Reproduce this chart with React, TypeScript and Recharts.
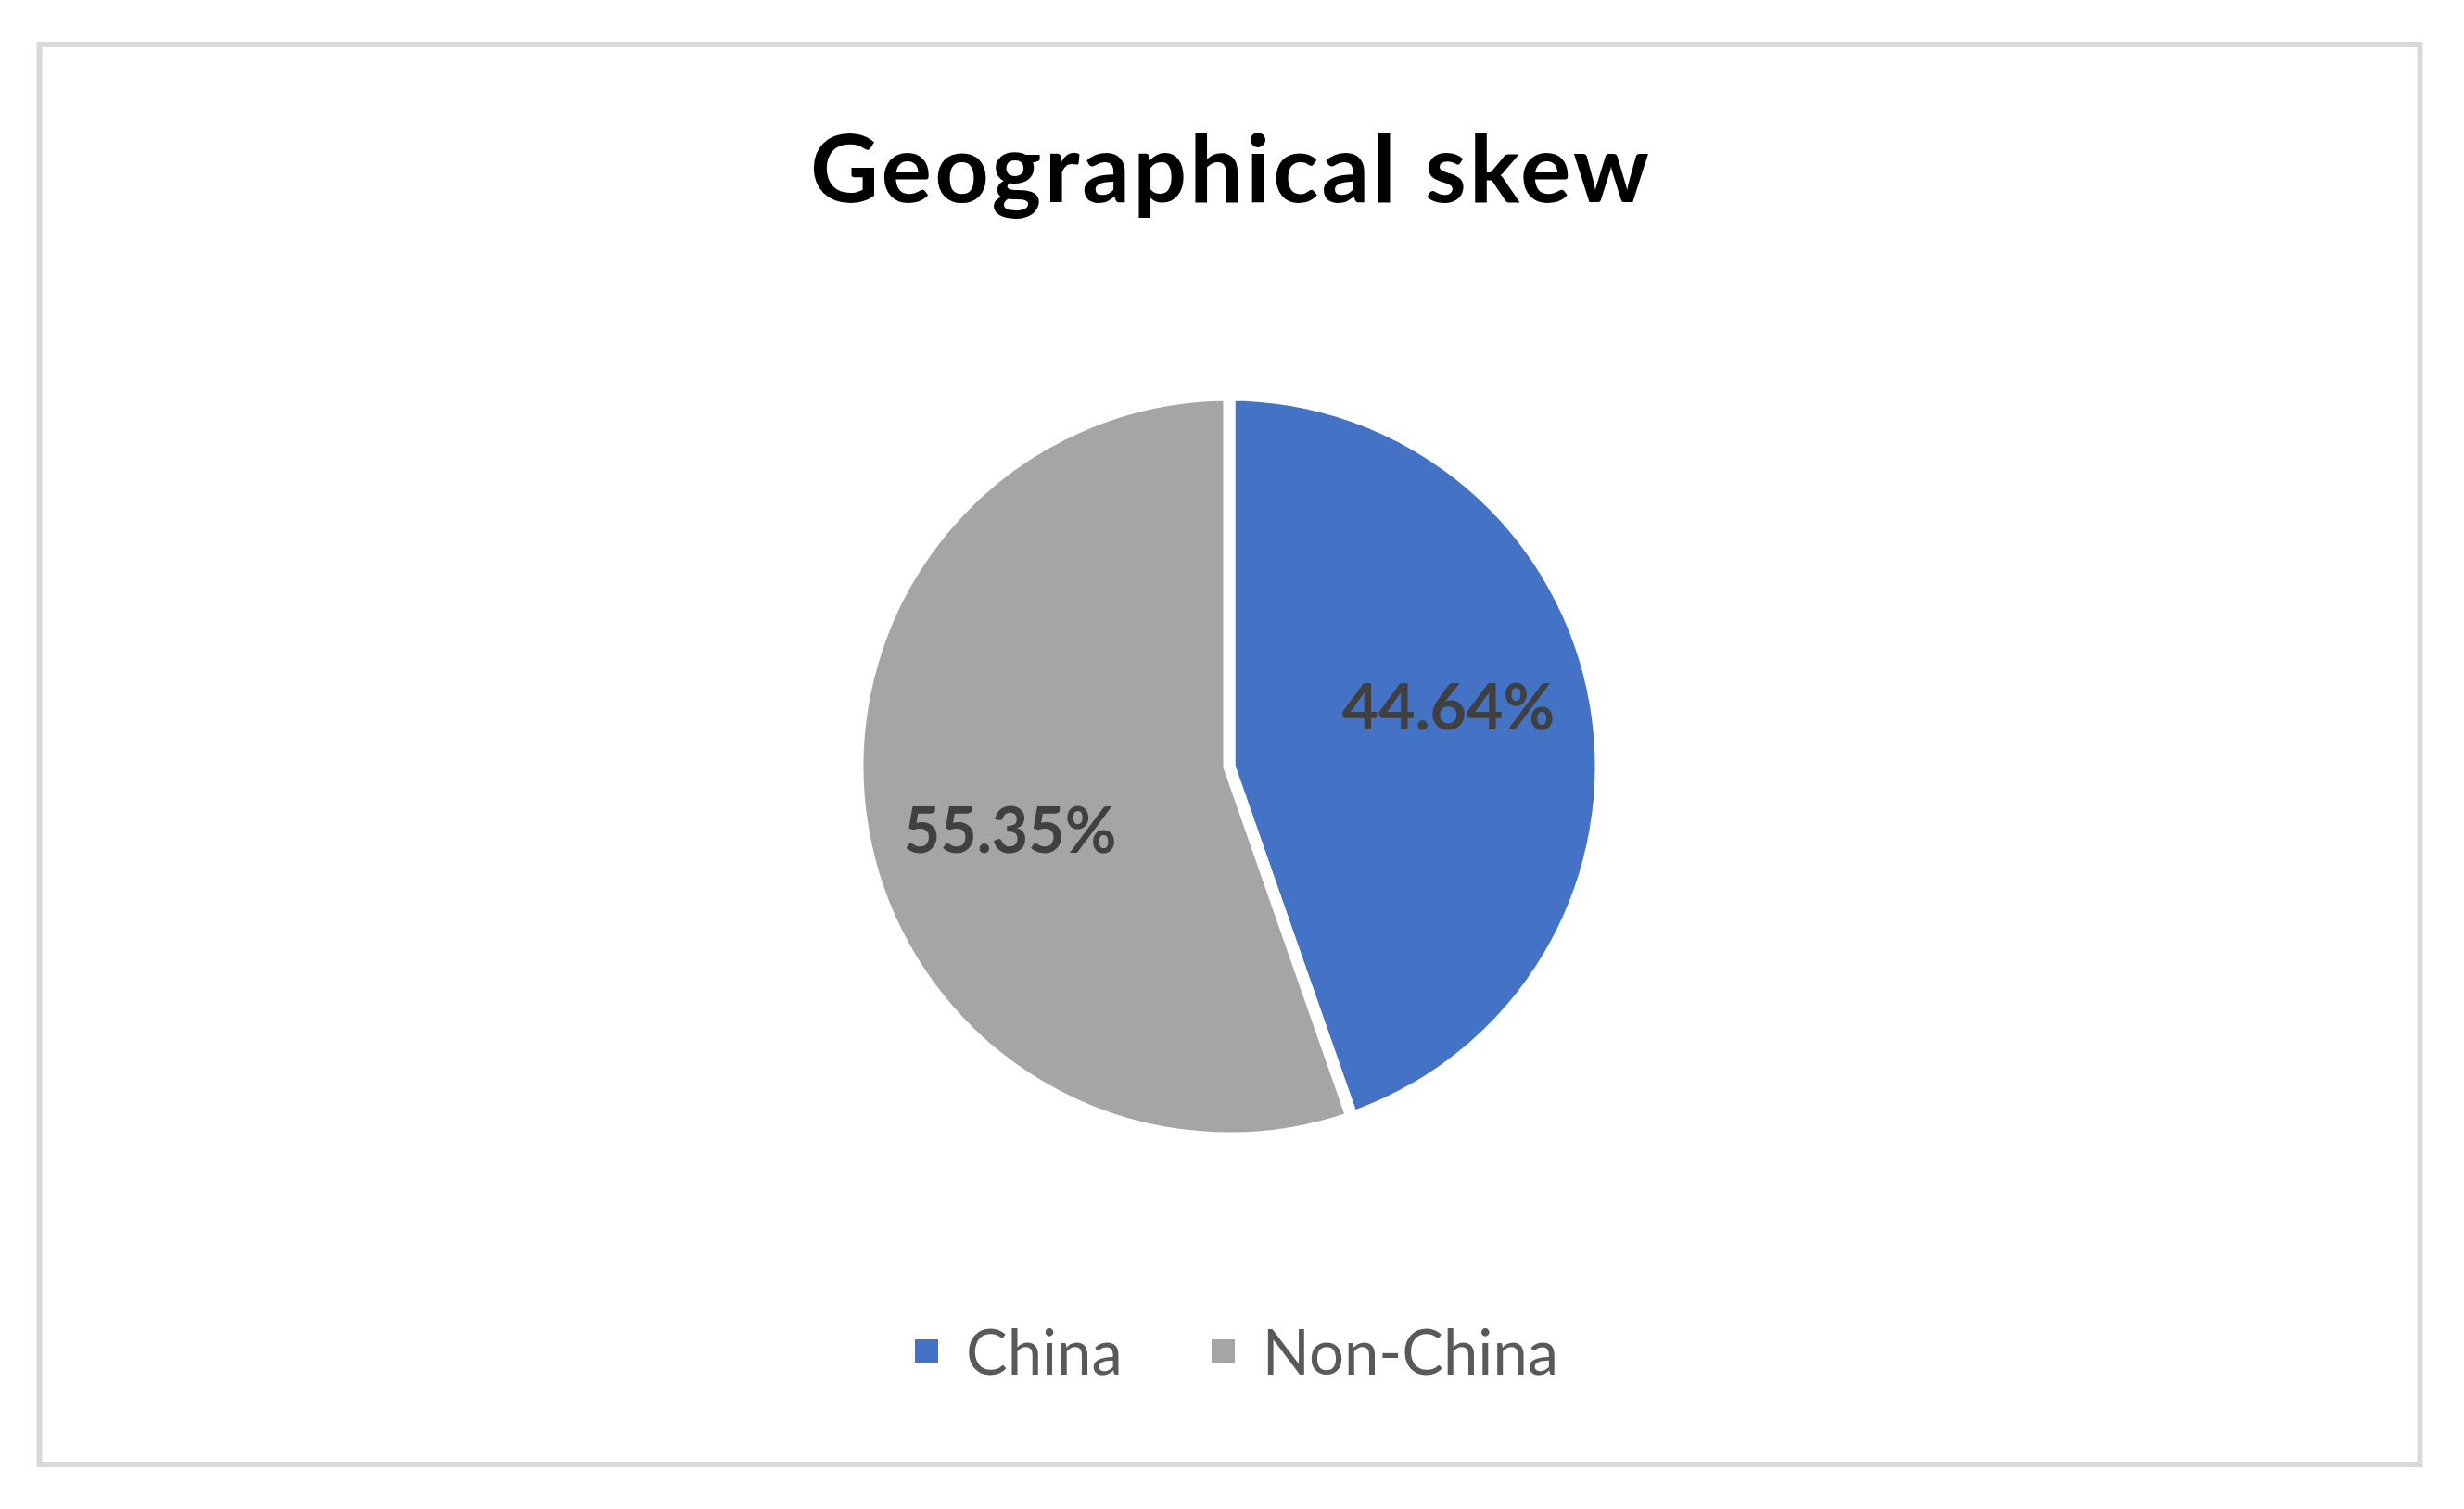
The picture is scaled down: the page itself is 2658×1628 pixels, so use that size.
import React from 'react';
import { PieChart, Pie, Cell, Legend } from 'recharts';

const categories = ['China', 'Non-China'];
const shares = [44.64, 55.35];
const labels = ['44.64%', '55.35%'];
const colors = ['#4472C4', '#A5A5A5'];
const title = 'Geographical skew';

const data = categories.map((name, i) => ({ name, value: shares[i], label: labels[i] }));

const FONT = 'Lato, "Open Sans", sans-serif';
const RAD = Math.PI / 180;

const renderLabel = (props: any) => {
  const { cx, cy, midAngle, outerRadius, index } = props;
  const ang = (midAngle + 6) * RAD;
  const r = outerRadius * 0.612;
  const x = cx + r * Math.cos(ang);
  const y = cy - r * Math.sin(ang);
  return (
    <text
      x={x}
      y={y}
      textAnchor="middle"
      dominantBaseline="central"
      fill="#404040"
      fontFamily={FONT}
      fontWeight={700}
      fontSize={68}
    >
      {data[index].label}
    </text>
  );
};

const renderLegend = () => (
  <div
    style={{
      display: 'flex',
      justifyContent: 'center',
      alignItems: 'center',
      fontFamily: FONT,
      fontSize: 67,
      color: '#595959',
      paddingLeft: 10,
    }}
  >
    {data.map((d, i) => (
      <div
        key={d.name}
        style={{ display: 'flex', alignItems: 'center', marginRight: i === 0 ? 96 : 0 }}
      >
        <div style={{ width: 25, height: 25, background: colors[i], marginRight: 30 }} />
        <span style={{ lineHeight: 1 }}>{d.name}</span>
      </div>
    ))}
  </div>
);

export default function App() {
  return (
    <div style={{ position: 'absolute', left: 0, top: 0, width: 2658, height: 1628, background: '#fff' }}>
      <svg width={2658} height={1628} style={{ position: 'absolute', left: 0, top: 0 }}>
        <rect x={42.5} y={48} width={2568} height={1532} fill="#fff" stroke="#D9D9D9" strokeWidth={6} />
        <text
          x={1328}
          y={218}
          textAnchor="middle"
          fontFamily={FONT}
          fontWeight={700}
          fontSize={102}
          letterSpacing={3.2}
          fill="#000"
        >
          {title}
        </text>
      </svg>
      <div style={{ position: 'absolute', left: 0, top: 0 }}>
        <PieChart width={2658} height={1628} margin={{ top: 0, right: 0, bottom: 0, left: 0 }}>
          <Pie
            data={data}
            dataKey="value"
            nameKey="name"
            cx={1326}
            cy={827}
            outerRadius={401}
            startAngle={90}
            endAngle={-270}
            stroke="#FFFFFF"
            strokeWidth={13}
            label={renderLabel}
            labelLine={false}
            isAnimationActive={false}
          >
            {data.map((d, i) => (
              <Cell key={d.name} fill={colors[i]} />
            ))}
          </Pie>
          <Legend
            content={renderLegend}
            wrapperStyle={{ position: 'absolute', left: 0, top: 1424, width: 2658 }}
          />
        </PieChart>
      </div>
    </div>
  );
}
